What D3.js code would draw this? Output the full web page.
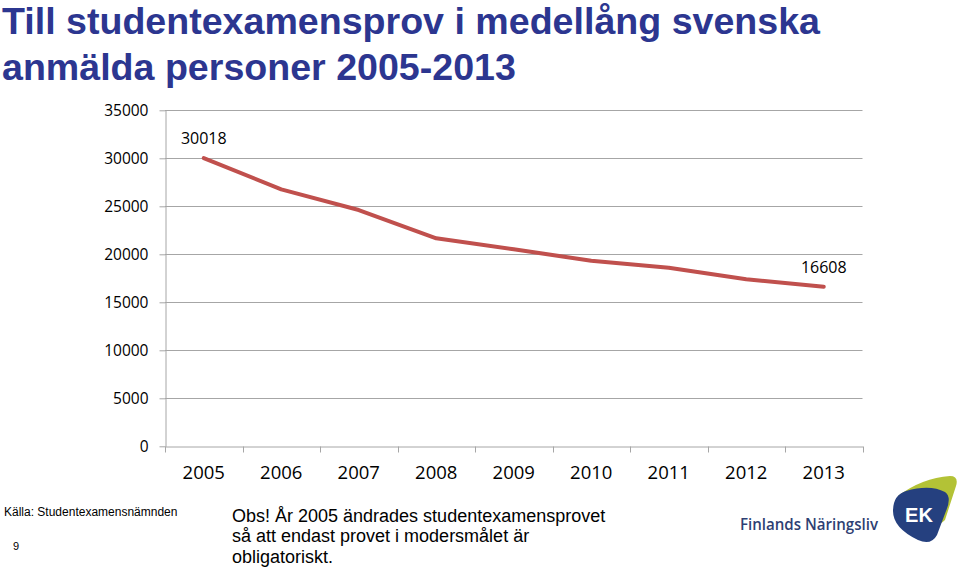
<!DOCTYPE html>
<html>
<head>
<meta charset="utf-8">
<script src="https://cdn.jsdelivr.net/npm/d3@7"></script>
<style>
  html, body { margin: 0; padding: 0; background: #fff; }
  svg { display: block; }
</style>
</head>
<body>
<svg id="chart" width="960" height="567"></svg>
<script>
const titleLines = ["Till studentexamensprov i medellång svenska", "anmälda personer 2005-2013"];
const years = ["2005", "2006", "2007", "2008", "2009", "2010", "2011", "2012", "2013"];
const values = [30018, 26770, 24610, 21670, 20520, 19330, 18600, 17400, 16608];
const yTicks = [0, 5000, 10000, 15000, 20000, 25000, 30000, 35000];
const labeledIdx = [0, 8];
const sourceText = "Källa: Studentexamensnämnden";
const pageNumber = "9";
const noteLines = ["Obs! År 2005 ändrades studentexamensprovet", "så att endast provet i modersmålet är", "obligatoriskt."];
const logoText = "Finlands Näringsliv";

(function () {
const svg = d3.select("#chart");

// Title
const title = svg.append("text")
  .attr("font-family", "'Liberation Sans', Arial, sans-serif")
  .attr("font-weight", "bold")
  .attr("font-size", 37.6)
  .attr("fill", "#2C3690");
title.selectAll("tspan").data(titleLines).join("tspan")
  .attr("x", 2)
  .attr("y", (d, i) => 33.5 + i * 46)
  .text(d => d);

const pLeft = 165, pRight = 862.5, pTop = 110.3, pBottom = 446.3;

const x = d3.scaleBand().domain(years).range([pLeft, pRight]).padding(0);
const y = d3.scaleLinear().domain([0, 35000]).range([pBottom, pTop]);

const gridColor = "#A6A6A6";

// Gridlines
svg.append("g").selectAll("line").data(yTicks.filter(d => d > 0)).join("line")
  .attr("x1", pLeft).attr("x2", pRight)
  .attr("y1", d => Math.round(y(d)) + 0.5).attr("y2", d => Math.round(y(d)) + 0.5)
  .attr("stroke", gridColor).attr("stroke-width", 1);

// Y axis
const yAxis = svg.append("g")
  .attr("transform", `translate(${pLeft + 0.5},0)`)
  .call(d3.axisLeft(y).tickValues(yTicks).tickSize(6).tickSizeOuter(0).tickPadding(11).tickFormat(d3.format("d")));
yAxis.select(".domain").attr("stroke", gridColor);
yAxis.selectAll(".tick line").attr("stroke", gridColor);
yAxis.selectAll("text")
  .attr("font-family", "'Open Sans', sans-serif")
  .attr("font-size", 15.5)
  .attr("fill", "#000");

// X axis
const xAxis = svg.append("g")
  .attr("transform", `translate(0,${Math.round(pBottom) + 0.5})`)
  .call(d3.axisBottom(x).tickSize(0).tickSizeOuter(0).tickPadding(19));
xAxis.select(".domain").attr("stroke", gridColor);
xAxis.selectAll("text")
  .attr("font-family", "'Open Sans', sans-serif")
  .attr("font-size", 18.5)
  .attr("fill", "#000");
const bounds = years.map(d => x(d)).concat([pRight]);
xAxis.append("g").selectAll("line").data(bounds).join("line")
  .attr("x1", d => Math.round(d) + 0.5).attr("x2", d => Math.round(d) + 0.5)
  .attr("y1", 0).attr("y2", 6)
  .attr("stroke", gridColor);

// Line
const cx = d => x(d) + x.bandwidth() / 2;
const line = d3.line()
  .x((d, i) => cx(years[i]))
  .y(d => y(d));
svg.append("path")
  .datum(values)
  .attr("d", line)
  .attr("fill", "none")
  .attr("stroke", "#C0504D")
  .attr("stroke-width", 4)
  .attr("stroke-linejoin", "round")
  .attr("stroke-linecap", "round");

// Data labels
svg.append("g").selectAll("text").data(labeledIdx).join("text")
  .attr("x", i => cx(years[i]))
  .attr("y", i => y(values[i]) - 14)
  .attr("text-anchor", "middle")
  .attr("font-family", "'Open Sans', sans-serif")
  .attr("font-size", 16)
  .attr("fill", "#000")
  .text(i => values[i]);

// Source
svg.append("text")
  .attr("x", 4).attr("y", 516)
  .attr("font-family", "'Liberation Sans', Arial, sans-serif")
  .attr("font-size", 12)
  .attr("fill", "#000")
  .text(sourceText);
svg.append("text")
  .attr("x", 13).attr("y", 550)
  .attr("font-family", "'Liberation Sans', Arial, sans-serif")
  .attr("font-size", 11)
  .attr("fill", "#000")
  .text(pageNumber);

// Note
const note = svg.append("text")
  .attr("font-family", "'Liberation Sans', Arial, sans-serif")
  .attr("font-size", 18)
  .attr("fill", "#000");
note.selectAll("tspan").data(noteLines).join("tspan")
  .attr("x", 232)
  .attr("y", (d, i) => 521.5 + i * 20.7)
  .text(d => d);

// Logo
svg.append("text")
  .attr("x", 740).attr("y", 530)
  .attr("font-family", "'Open Sans', sans-serif")
  .attr("font-weight", 600)
  .attr("font-size", 16.5)
  .attr("fill", "#2E3F73")
  .attr("textLength", 138)
  .attr("lengthAdjust", "spacingAndGlyphs")
  .text(logoText);

const logo = svg.append("g");
logo.append("path")
  .attr("d", "M 898 496 Q 922 478 950 476 Q 959 476 956 486 L 945 520 Q 935 530 925 520 Z")
  .attr("fill", "#B3C236");
logo.append("path")
  .attr("d", "M 906 491 Q 930 484 945 492 Q 952 497 946 511 L 937 535 Q 931 546 918 540 Q 893 528 893 511 Q 893 495 906 491 Z")
  .attr("fill", "#25407F");
logo.append("text")
  .attr("x", 919).attr("y", 522)
  .attr("text-anchor", "middle")
  .attr("font-family", "'Liberation Sans', Arial, sans-serif")
  .attr("font-weight", "bold")
  .attr("font-size", 20)
  .attr("fill", "#fff")
  .text("EK");
})();
</script>
</body>
</html>
